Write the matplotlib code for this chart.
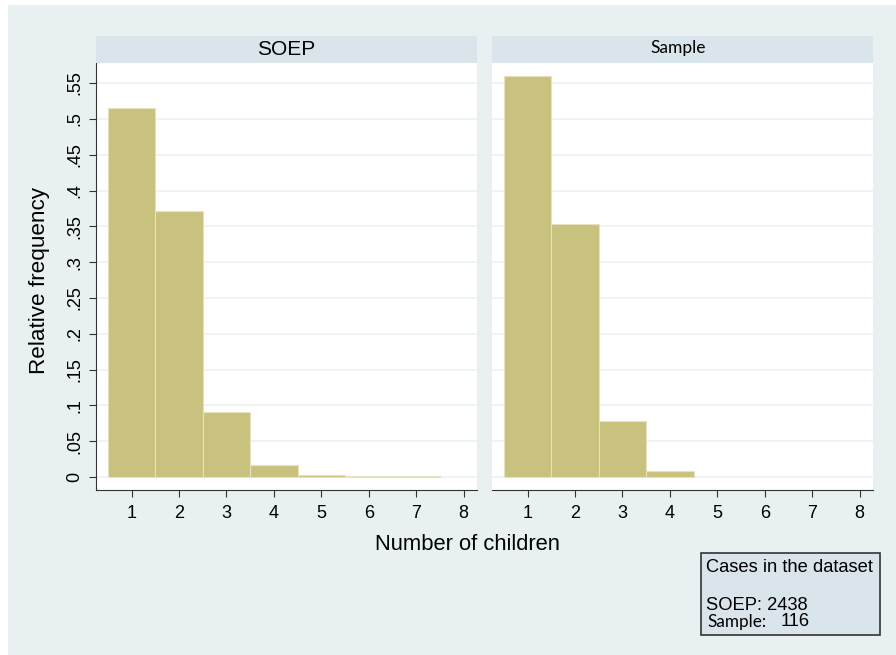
import matplotlib.pyplot as plt
from matplotlib.patches import Rectangle

plt.rcParams['font.family'] = ['Liberation Sans', 'DejaVu Sans']

# данные
children = [1, 2, 3, 4, 5, 6, 7]
soep_freq = [0.515, 0.372, 0.091, 0.017, 0.003, 0.001, 0.001]
sample_freq = [0.560, 0.353, 0.078, 0.009, 0, 0, 0]
panel_titles = ["SOEP", "Sample"]
yticks = [0, .05, .1, .15, .2, .25, .3, .35, .4, .45, .5, .55]
ytick_labels = ["0", ".05", ".1", ".15", ".2", ".25", ".3", ".35", ".4", ".45", ".5", ".55"]
xticks = [1, 2, 3, 4, 5, 6, 7, 8]
n_soep, n_sample = 2438, 116

BG = "#e8f0f2"
STRIP = "#d9e5eb"
GRID = "#eaf2f3"
BAR = "#c9c27f"

W, H = 896, 655
fig = plt.figure(figsize=(W / 100, H / 100), dpi=100)
fig.patch.set_facecolor("white")
fig.add_artist(Rectangle((8 / W, 0), 1 - 8 / W, 1 - 5 / H, transform=fig.transFigure,
                         facecolor=BG, edgecolor="none", zorder=-10))

def px(x0, y0, x1, y1):
    return [x0 / W, 1 - y1 / H, (x1 - x0) / W, (y1 - y0) / H]

panels = [(96, 477, soep_freq), (492, 873, sample_freq)]
for i, (x0, x1, freq) in enumerate(panels):
    ax = fig.add_axes(px(x0, 63, x1, 490))
    ax.set_facecolor("white")
    xs = [c for c, f in zip(children, freq) if f > 0]
    hs = [f for f in freq if f > 0]
    ax.bar(xs, hs, width=1.0, color=BAR, edgecolor="#e6e2c0", linewidth=0.8, zorder=3)
    ax.set_xlim(0.25, 8.28)
    ax.set_ylim(-0.018, 0.578)
    ax.set_yticks(yticks)
    ax.yaxis.grid(True, color=GRID, linewidth=1.2, zorder=0)
    ax.set_xticks(xticks)
    ax.set_xticklabels([str(t) for t in xticks], fontsize=13)
    for s in ["top", "right"]:
        ax.spines[s].set_visible(False)
    ax.spines["bottom"].set_color("#333333")
    ax.tick_params(axis="x", length=5, color="#333333", pad=6)
    if i == 0:
        ax.set_yticklabels(ytick_labels, fontsize=13, rotation=90, va="center")
        ax.spines["left"].set_color("#333333")
        ax.tick_params(axis="y", length=5, color="#333333", pad=4)
    else:
        ax.spines["left"].set_visible(False)
        ax.tick_params(axis="y", left=False, labelleft=False)
    # полоса заголовка панели
    fig.add_artist(Rectangle((x0 / W, 1 - 63 / H), (x1 - x0) / W, 27 / H,
                             transform=fig.transFigure, facecolor=STRIP, edgecolor="none"))
    if i == 0:
        fig.text((x0 + x1) / 2 / W, 1 - 49.5 / H, panel_titles[i], ha="center", va="center",
                 fontsize=15)
    else:
        fig.text(678 / W, 1 - 48 / H, panel_titles[i], ha="center", va="center",
                 fontsize=12.5, family="Lato")

fig.text(467 / W, 1 - 544 / H, "Number of children", ha="center", va="center", fontsize=15.8)
fig.text(40 / W, 1 - 280 / H, "Relative frequency", ha="center", va="center", fontsize=16.2,
         rotation=90)

# рамка с числом наблюдений
fig.add_artist(Rectangle((701 / W, 1 - 635 / H), 179 / W, 82 / H, transform=fig.transFigure,
                         facecolor=STRIP, edgecolor="#333333", linewidth=1.2))
fig.text(706 / W, 1 - 567 / H, "Cases in the dataset", ha="left", va="center", fontsize=13.2)
fig.text(706 / W, 1 - 605 / H, "SOEP: %d" % n_soep, ha="left", va="center", fontsize=13.2)
fig.text(707 / W, 1 - 622 / H, "Sample:", ha="left", va="center", fontsize=12.3, family="Lato")
fig.text(781 / W, 1 - 622 / H, "%d" % n_sample, ha="left", va="center", fontsize=13.2)

fig.savefig("out.png", dpi=100)
